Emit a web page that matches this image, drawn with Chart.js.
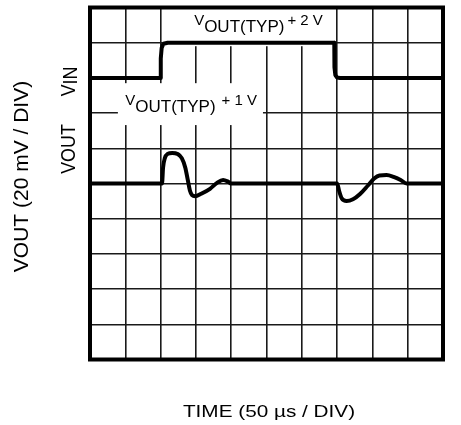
<!DOCTYPE html>
<html>
<head>
<meta charset="utf-8">
<script src="https://cdn.jsdelivr.net/npm/chart.js@4.4.1/dist/chart.umd.min.js"></script>
<style>
  html, body { margin: 0; padding: 0; background: #fff; }
  #wrap { width: 461px; height: 425px; position: relative; }
</style>
</head>
<body>
<div id="wrap"><canvas id="scope"></canvas></div>
<script>
// scope screen: 10 x 10 divisions, values below are in divisions
const xDivs = 10;
const yDivs = 10;

// VIN step (upper trace)
const vinTime  = [0, 2.0, 2.005, 2.03, 2.08, 2.2, 6.92, 6.925, 6.95, 7.0, 7.08, 10];
const vinLevel = [8, 8, 8.55, 8.85, 8.97, 9, 9, 8.3, 8.08, 8.01, 8, 8];

// VOUT response (lower trace)
const voutTime  = [0, 2.04, 2.07, 2.12, 2.2, 2.33, 2.48, 2.6, 2.7, 2.77, 2.83, 2.89, 2.98, 3.15, 3.4, 3.6, 3.77, 3.9, 4.0,
                   7.0, 7.06, 7.13, 7.27, 7.45, 7.65, 7.88, 8.05, 8.2, 8.4, 8.6, 8.8, 8.97, 10];
const voutLevel = [5, 5, 5.45, 5.72, 5.84, 5.87, 5.84, 5.72, 5.45, 5.1, 4.8, 4.67, 4.64, 4.71, 4.85, 5.02, 5.1, 5.06, 5,
                   5, 4.78, 4.58, 4.5, 4.55, 4.7, 4.95, 5.14, 5.23, 5.24, 5.19, 5.1, 5, 5];

const xTitle = 'TIME (50 µs / DIV)';
const yTitle = 'VOUT (20 mV / DIV)';
const traceNames = ['VIN', 'VOUT'];
const stepLabels = ['+ 2 V', '+ 1 V'];

function toPoints(xs, ys) {
    return xs.map((x, i) => ({ x: x, y: ys[i] }));
}

// white label boxes and their text, in division units
const labelBoxes = [
    { x0: 2.05, x1: 6.95, y0: 8.9, y1: 9.98, tx: 2.95, ty: 9.5, extra: stepLabels[0], gap: 3 },
    { x0: 0.79, x1: 4.9, y0: 6.66, y1: 7.85, tx: 1.0, ty: 7.23, extra: stepLabels[1], gap: 6 }
];

const FONT = '"Liberation Sans", Arial, sans-serif';

const screenPlugin = {
    id: 'screen',
    beforeDatasetsDraw(chart) {
        const ctx = chart.ctx;
        const xs = chart.scales.x, ys = chart.scales.y;
        ctx.save();
        labelBoxes.forEach(b => {
            const l = xs.getPixelForValue(b.x0), r = xs.getPixelForValue(b.x1);
            const t = ys.getPixelForValue(b.y1), btm = ys.getPixelForValue(b.y0);
            ctx.fillStyle = '#fff';
            ctx.fillRect(l, t, r - l, btm - t);

            // V_OUT(TYP) + n V
            const px = xs.getPixelForValue(b.tx), py = ys.getPixelForValue(b.ty);
            ctx.fillStyle = '#000';
            ctx.textBaseline = 'alphabetic';
            ctx.textAlign = 'left';
            ctx.font = '15px ' + FONT;
            ctx.fillText('V', px, py);
            const w = ctx.measureText('V').width;
            ctx.font = '17px ' + FONT;
            ctx.fillText('OUT(TYP)', px + w, py + 6.5);
            const w2 = ctx.measureText('OUT(TYP)').width;
            ctx.font = '15px ' + FONT;
            ctx.fillText(b.extra, px + w + w2 + b.gap, py);
        });
        ctx.restore();
    },
    afterDraw(chart) {
        const ctx = chart.ctx;
        const a = chart.chartArea;
        const ys = chart.scales.y;
        ctx.save();
        // frame
        ctx.strokeStyle = '#000';
        ctx.lineWidth = 4;
        ctx.strokeRect(a.left, a.top, a.right - a.left, a.bottom - a.top);

        ctx.fillStyle = '#000';
        ctx.textBaseline = 'alphabetic';

        // trace names on the left (VIN with subscript, VOUT plain)
        ctx.save();
        ctx.translate(a.left - 15, ys.getPixelForValue(7.9));
        ctx.rotate(-Math.PI / 2);
        ctx.scale(0.85, 1);
        ctx.font = '21px ' + FONT;
        ctx.textAlign = 'left';
        const vw = ctx.measureText('V').width;
        const inw = ctx.measureText('IN').width;
        const x0 = -(vw + inw) / 2;
        ctx.fillText('V', x0, 0);
        ctx.fillText('IN', x0 + vw, 2);
        ctx.restore();

        ctx.save();
        ctx.translate(a.left - 15, ys.getPixelForValue(5.98));
        ctx.rotate(-Math.PI / 2);
        ctx.scale(0.85, 1);
        ctx.font = '21px ' + FONT;
        ctx.textAlign = 'center';
        ctx.fillText(traceNames[1], 0, 0);
        ctx.restore();

        // axis titles
        ctx.textAlign = 'center';
        ctx.font = '21px ' + FONT;
        ctx.save();
        ctx.translate(a.left - 62, (a.top + a.bottom) / 2 - 7);
        ctx.rotate(-Math.PI / 2);
        ctx.fillText(yTitle, 0, 0);
        ctx.restore();

        ctx.font = '17px ' + FONT;
        ctx.save();
        ctx.translate((a.left + a.right) / 2 + 2.5, a.bottom + 57.5);
        ctx.scale(1.22, 1);
        ctx.fillText(xTitle, 0, 0);
        ctx.restore();
        ctx.restore();
    }
};

const gridColor = '#1a1a1a';

new Chart(document.getElementById('scope').getContext('2d'), {
    type: 'line',
    data: {
        datasets: [
            {
                label: traceNames[0],
                data: toPoints(vinTime, vinLevel),
                borderColor: '#000',
                borderWidth: 4,
                pointRadius: 0,
                tension: 0,
                borderJoinStyle: 'round'
            },
            {
                label: traceNames[1],
                data: toPoints(voutTime, voutLevel),
                borderColor: '#000',
                borderWidth: 4,
                pointRadius: 0,
                cubicInterpolationMode: 'monotone',
                borderJoinStyle: 'round'
            }
        ]
    },
    options: {
        responsive: true,
        maintainAspectRatio: false,
        animation: false,
        layout: { padding: { left: 90, right: 18, top: 7.5, bottom: 65.5 } },
        plugins: {
            legend: { display: false },
            tooltip: { enabled: false }
        },
        scales: {
            x: {
                type: 'linear',
                min: 0,
                max: xDivs,
                ticks: { display: false, stepSize: 1 },
                border: { display: false },
                grid: { color: gridColor, lineWidth: 1.6, drawTicks: false }
            },
            y: {
                type: 'linear',
                min: 0,
                max: yDivs,
                ticks: { display: false, stepSize: 1 },
                border: { display: false },
                grid: {
                    color: c => (c.tick && c.tick.value === 8) ? 'rgba(0,0,0,0)' : gridColor,
                    lineWidth: 1.6,
                    drawTicks: false
                }
            }
        }
    },
    plugins: [screenPlugin]
});
</script>
</body>
</html>
